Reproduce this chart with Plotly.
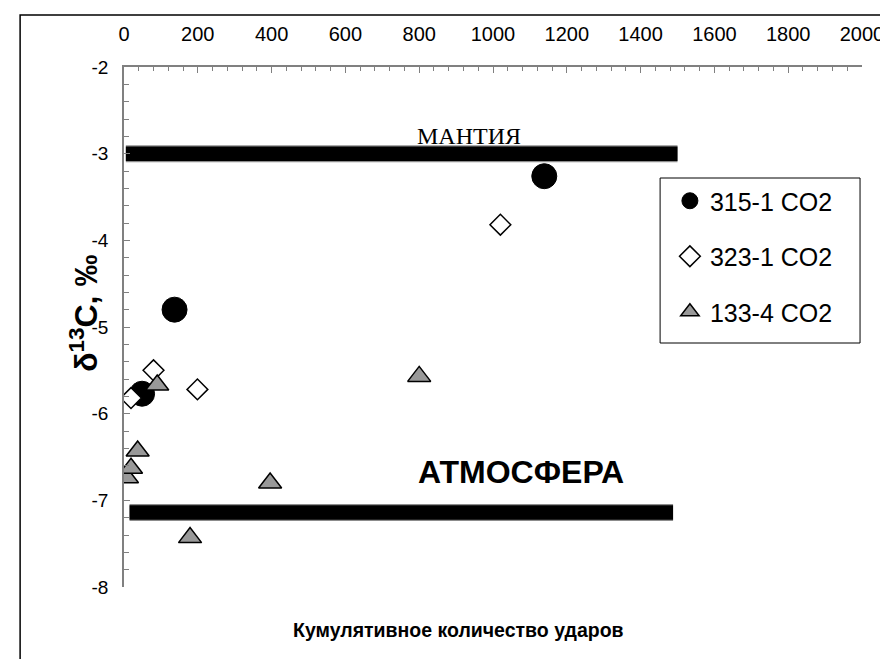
import plotly.graph_objects as go

# ---- data ----
s315_x = [49, 137, 1139]
s315_y = [-5.77, -4.80, -3.26]

s323_x = [19, 80, 199, 1020]
s323_y = [-5.82, -5.50, -5.72, -3.82]

s133_x = [8, 19, 37, 90, 179, 396, 800]
s133_y = [-6.74, -6.63, -6.43, -5.67, -7.43, -6.80, -5.57]

mantle_x = [5, 1500]
mantle_y = [-3.0, -3.0]
atmos_x = [15, 1488]
atmos_y = [-7.14, -7.14]

x_ticks = [0, 200, 400, 600, 800, 1000, 1200, 1400, 1600, 1800, 2000]
y_ticks = [-8, -7, -6, -5, -4, -3, -2]

FONT = "Liberation Sans, Arial, sans-serif"

fig = go.Figure()

for bx, by in ((mantle_x, mantle_y), (atmos_x, atmos_y)):
    fig.add_trace(go.Scatter(x=bx, y=by, mode="lines",
                             line=dict(color="#8c8c8c", width=17), showlegend=False, hoverinfo="skip"))
    fig.add_trace(go.Scatter(x=bx, y=by, mode="lines",
                             line=dict(color="black", width=14.5), showlegend=False, hoverinfo="skip"))

fig.add_trace(go.Scatter(x=s315_x, y=s315_y, mode="markers", name="315-1 CO2", legendgroup="a",
                         marker=dict(symbol="circle", size=25, color="black",
                                     line=dict(color="black", width=1))))
fig.add_trace(go.Scatter(x=s323_x, y=s323_y, mode="markers", name="323-1 CO2", legendgroup="b",
                         marker=dict(symbol="diamond", size=16, color="white",
                                     line=dict(color="black", width=1.5))))
fig.add_trace(go.Scatter(x=s133_x, y=s133_y, mode="markers", name="133-4 CO2", legendgroup="c",
                         marker=dict(symbol="triangle-up", size=20, color="#999999",
                                     line=dict(color="black", width=1.5))))

L, T, R, B = 116, 59, 869, 579
W, H = 888, 659
pw, ph = R - L, B - T

def px2paper(xp, yp):
    return (xp - L) / pw, (B - yp) / ph

lgx, lgy = px2paper(673, 170)
fig.update_layout(
    width=W, height=H,
    margin=dict(l=L, r=W - R, t=T, b=H - B, pad=0),
    paper_bgcolor="white", plot_bgcolor="white",
    font=dict(family=FONT, color="black", size=16),
    showlegend=True,
    legend=dict(x=lgx, y=lgy, xanchor="left", yanchor="top",
                bgcolor="rgba(0,0,0,0)", borderwidth=0,
                font=dict(family=FONT, size=25, color="black"),
                traceorder="grouped", tracegroupgap=20,
                itemsizing="trace"),
)

fig.update_xaxes(
    side="top", range=[0, 2000], tickmode="array", tickvals=x_ticks,
    ticktext=[str(v) for v in x_ticks], ticklabeloverflow="allow",
    showgrid=False, zeroline=False, showline=True, linecolor="#808080", linewidth=1.5,
    ticks="inside", ticklen=6, tickcolor="#808080", tickwidth=1.2,
    minor=dict(dtick=40, ticks="inside", ticklen=4, tickcolor="#808080", tickwidth=1, showgrid=False),
    tickfont=dict(family=FONT, size=20, color="black"), ticklabelstandoff=16,
)
fig.update_yaxes(
    range=[-8, -2], tickmode="array", tickvals=y_ticks,
    ticktext=[str(v) for v in y_ticks],
    showgrid=False, zeroline=False, showline=True, linecolor="#808080", linewidth=1.5,
    ticks="inside", ticklen=6, tickcolor="#808080", tickwidth=1.2,
    minor=dict(dtick=0.2, ticks="inside", ticklen=5, tickcolor="#808080", tickwidth=1, showgrid=False),
    tickfont=dict(family=FONT, size=19, color="black"), ticklabelstandoff=10,
)

# legend frame
bx0, by0 = px2paper(663, 335)
bx1, by1 = px2paper(867, 170)
fig.add_shape(type="rect", xref="paper", yref="paper", x0=bx0, x1=bx1, y0=by0, y1=by1,
              line=dict(color="black", width=1), fillcolor="white", layer="below")

# annotations
ax_, ay_ = px2paper(457, 622)
fig.add_annotation(text="<b>Кумулятивное количество ударов</b>", x=ax_, y=ay_, xref="paper", yref="paper",
                   xanchor="center", yanchor="middle",
                   showarrow=False, font=dict(family=FONT, size=19.5, color="black"))
yx, yy = px2paper(75, 305)
fig.add_annotation(text="<b>δ<sup>13</sup>C, ‰</b>", x=yx, y=yy, xref="paper", yref="paper",
                   xanchor="center", yanchor="middle",
                   textangle=-90, showarrow=False, font=dict(family=FONT, size=32, color="black"))
fig.add_annotation(text="МАНТИЯ", x=935, y=-2.91, xref="x", yref="y", xanchor="center", yanchor="bottom", yshift=-5,
                   showarrow=False, font=dict(family="Liberation Serif, Times New Roman, serif", size=24, color="black"))
fig.add_annotation(text="<b>АТМОСФЕРА</b>", x=1076, y=-6.675, xref="x", yref="y",
                   xanchor="center", yanchor="middle",
                   showarrow=False, font=dict(family=FONT, size=32, color="black"))

# outer frame
fx0, fy1 = px2paper(10, 7)
fx1, fy0 = px2paper(900, 680)
fig.add_shape(type="rect", xref="paper", yref="paper", x0=fx0, x1=fx1, y0=fy0, y1=fy1,
              line=dict(color="black", width=1.5), fillcolor="rgba(0,0,0,0)", layer="above")

fig.write_html("out.html")
